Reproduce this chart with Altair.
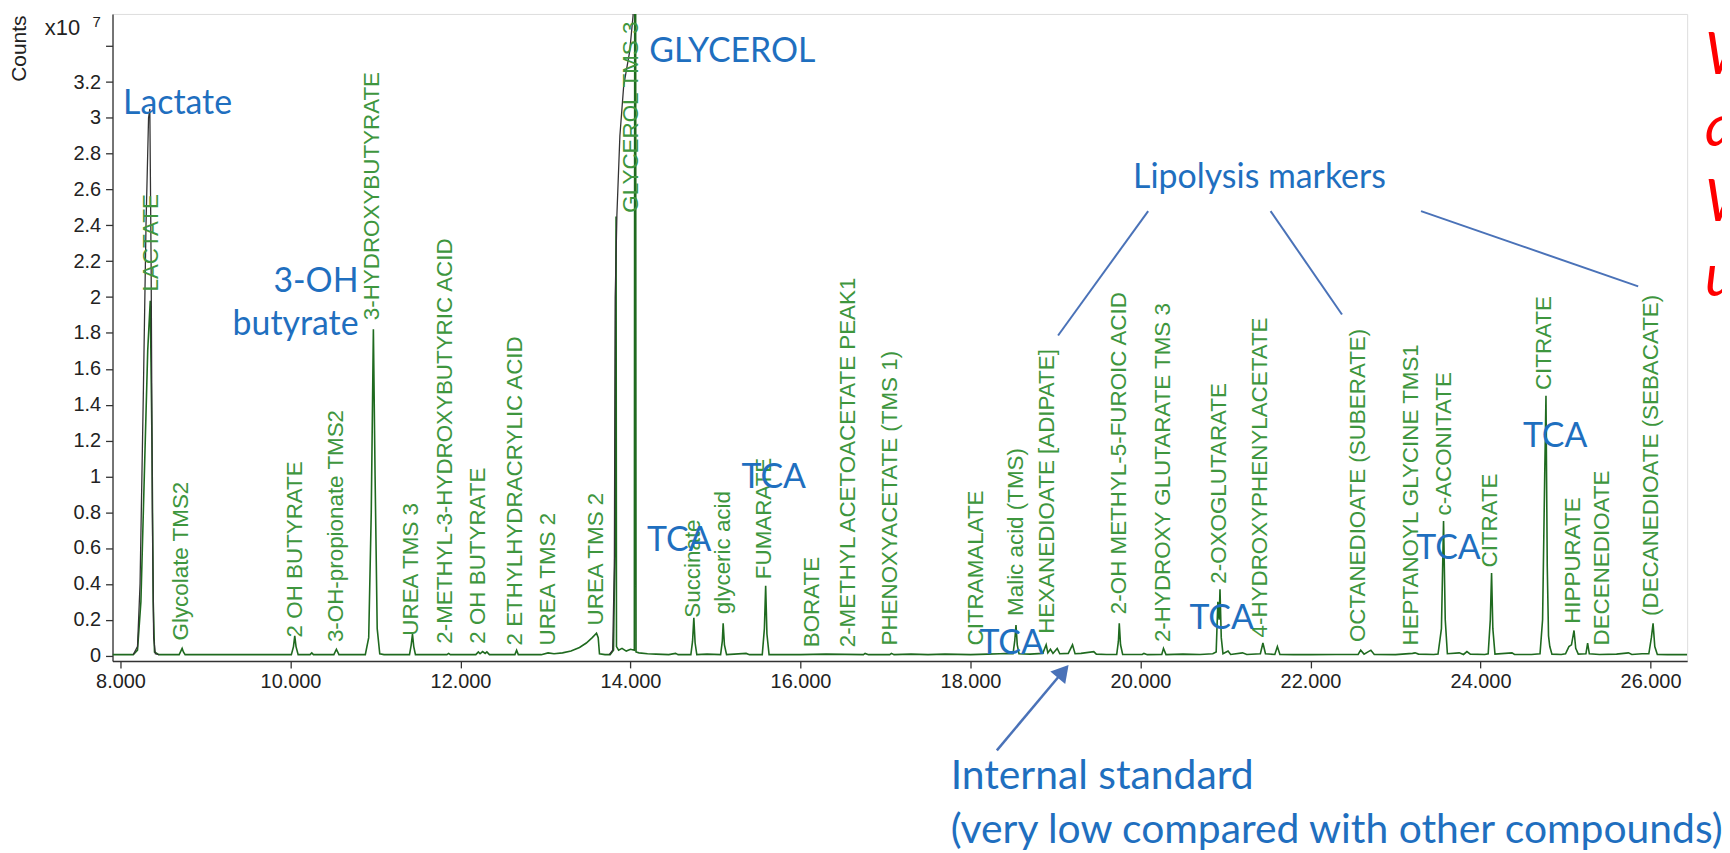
import altair as alt
import pandas as pd

# ---------------- data ----------------
# main (green) chromatogram trace: retention time (min) and counts (x10^7)
trace_t = [7.906, 8.15, 8.20, 8.24, 8.28, 8.32, 8.35, 8.37, 8.385, 8.40, 8.45,
           8.69, 8.71, 8.725, 8.74, 8.76, 9.5,
           10.01, 10.035, 10.05, 10.065, 10.09, 10.23, 10.25, 10.27, 10.51, 10.54, 10.57,
           10.88, 10.92, 10.95, 10.975, 10.995, 11.02, 11.05, 11.10,
           11.40, 11.42, 11.435, 11.45, 11.47, 11.84, 11.86, 11.88,
           12.18, 12.21, 12.23, 12.26, 12.29, 12.31, 12.34, 12.64, 12.66, 12.68,
           12.95, 13.03, 13.10, 13.20, 13.30, 13.40, 13.48, 13.55, 13.60, 13.62, 13.635, 13.70,
           13.76, 13.80, 13.815, 13.83, 13.835, 13.86, 13.90, 13.95, 14.00, 14.045, 14.05, 14.06, 14.065,
           14.10, 14.20, 14.30, 14.45, 14.53, 14.56,
           14.71, 14.73, 14.745, 14.76, 14.78, 14.90,
           15.06, 15.08, 15.09, 15.105, 15.13, 15.36, 15.40,
           15.55, 15.575, 15.59, 15.605, 15.63, 16.00, 16.30, 16.74, 16.76, 16.80,
           17.05, 17.07, 17.10, 17.30, 17.50, 17.70, 18.00, 18.20, 18.35, 18.45,
           18.50, 18.52, 18.535, 18.55, 18.57, 18.70, 18.85, 18.89, 18.91, 18.94, 18.97,
           19.02, 19.05, 19.15, 19.20, 19.23, 19.30, 19.45, 19.48, 19.60,
           19.72, 19.74, 19.75, 19.765, 19.79, 20.02, 20.04, 20.08, 20.25, 20.27, 20.30,
           20.50, 20.70, 20.85, 20.89, 20.91, 20.925, 20.935, 20.95, 20.97, 21.03, 21.06,
           21.20, 21.25, 21.41, 21.44, 21.47, 21.58, 21.61, 21.64, 21.80, 22.00, 22.30,
           22.56, 22.59, 22.63, 22.71, 22.75, 23.00, 23.20, 23.23, 23.27, 23.45,
           23.50, 23.54, 23.565, 23.585, 23.61, 23.75, 23.80, 23.84, 23.88, 24.05,
           24.09, 24.115, 24.13, 24.145, 24.17, 24.37, 24.40, 24.60,
           24.70, 24.73, 24.755, 24.77, 24.785, 24.80, 24.815, 24.84, 24.95,
           25.00, 25.04, 25.07, 25.10, 25.12, 25.15, 25.24, 25.26, 25.28, 25.40, 25.60,
           25.74, 25.78, 25.90, 25.98, 26.01, 26.03, 26.05, 26.08, 26.20, 26.431]
trace_y = [0.005, 0.005, 0.03, 0.30, 1.00, 1.70, 1.98, 1.20, 0.30, 0.02, 0.005,
           0.005, 0.025, 0.04, 0.02, 0.005, 0.005,
           0.005, 0.05, 0.11, 0.05, 0.005, 0.005, 0.015, 0.005, 0.005, 0.035, 0.005,
           0.005, 0.10, 0.80, 1.82, 1.00, 0.15, 0.01, 0.005,
           0.005, 0.06, 0.12, 0.05, 0.005, 0.005, 0.012, 0.005,
           0.005, 0.02, 0.01, 0.022, 0.012, 0.02, 0.005, 0.005, 0.03, 0.005,
           0.005, 0.015, 0.01, 0.015, 0.025, 0.045, 0.07, 0.10, 0.125, 0.10, 0.01, 0.005,
           0.005, 0.03, 0.55, 2.45, 0.05, 0.03, 0.04, 0.025, 0.035, 0.03, 3.9, 3.9, 0.02,
           0.015, 0.01, 0.008, 0.005, 0.012, 0.005,
           0.005, 0.08, 0.21, 0.07, 0.005, 0.008,
           0.005, 0.08, 0.18, 0.06, 0.005, 0.012, 0.005,
           0.005, 0.15, 0.39, 0.12, 0.005, 0.005, 0.008, 0.005, 0.012, 0.005,
           0.005, 0.012, 0.005, 0.008, 0.005, 0.008, 0.005, 0.008, 0.010, 0.012,
           0.01, 0.08, 0.17, 0.06, 0.01, 0.008, 0.012, 0.06, 0.015, 0.035, 0.012,
           0.04, 0.01, 0.012, 0.06, 0.01, 0.012, 0.022, 0.008, 0.006,
           0.006, 0.08, 0.18, 0.06, 0.006, 0.006, 0.012, 0.005, 0.006, 0.04, 0.005,
           0.008, 0.006, 0.01, 0.02, 0.30, 0.20, 0.37, 0.10, 0.01, 0.025, 0.006,
           0.015, 0.006, 0.01, 0.07, 0.01, 0.006, 0.05, 0.006, 0.005, 0.005, 0.006,
           0.006, 0.03, 0.008, 0.03, 0.006, 0.005, 0.012, 0.015, 0.008, 0.006,
           0.008, 0.15, 0.75, 0.20, 0.01, 0.015, 0.006, 0.022, 0.008, 0.006,
           0.01, 0.20, 0.46, 0.15, 0.008, 0.015, 0.006, 0.006,
           0.01, 0.20, 1.00, 1.45, 0.50, 0.11, 0.05, 0.008, 0.006,
           0.01, 0.05, 0.06, 0.14, 0.04, 0.008, 0.01, 0.07, 0.01, 0.006, 0.008,
           0.015, 0.006, 0.01, 0.01, 0.10, 0.18, 0.05, 0.006, 0.005, 0.005]

# black (total) trace where it departs from the green one
tic_seg = ["lactate"] * 12 + ["glycerol"] * 11
tic_t = [8.15, 8.20, 8.23, 8.27, 8.30, 8.33, 8.345, 8.36, 8.375, 8.39, 8.41, 8.45,
         13.75, 13.79, 13.81, 13.82, 13.84, 13.875, 13.92, 13.99, 14.03, 14.045, 14.05]
tic_y = [0.005, 0.05, 0.40, 1.50, 2.40, 3.00, 3.05, 2.20, 0.80, 0.10, 0.01, 0.005,
         0.005, 0.03, 0.50, 2.00, 2.46, 2.90, 3.18, 3.37, 3.57, 3.90, 3.90]

# peak labels (software annotations)
label_names = ["LACTATE", "Glycolate TMS2", "2 OH BUTYRATE", "3-OH-propionate TMS2",
               "3-HYDROXYBUTYRATE", "UREA TMS 3", "2-METHYL-3-HYDROXYBUTYRIC ACID",
               "2 OH BUTYRATE", "2 ETHYLHYDRACRYLIC ACID", "UREA TMS 2", "UREA TMS 2",
               "GLYCEROL TMS 3", "Succinate", "glyceric acid", "FUMARATE", "BORATE",
               "2-METHYL ACETOACETATE PEAK1", "PHENOXYACETATE (TMS 1)", "CITRAMALATE",
               "Malic acid (TMS)", "HEXANEDIOATE [ADIPATE]", "2-OH METHYL-5-FUROIC ACID",
               "2-HYDROXY GLUTARATE TMS 3", "2-OXOGLUTARATE", "4-HYDROXYPHENYLACETATE",
               "OCTANEDIOATE (SUBERATE)", "HEPTANOYL GLYCINE TMS1", "c-ACONITATE",
               "CITRATE", "CITRATE", "HIPPURATE", "DECENEDIOATE", "(DECANEDIOATE (SEBACATE)"]
label_t = [8.355, 8.71, 10.05, 10.53, 10.96, 11.415, 11.82, 12.21, 12.64, 13.03, 13.59,
           14.01, 14.74, 15.09, 15.565, 16.14, 16.56, 17.055, 18.065, 18.53, 18.895, 19.75,
           20.27, 20.92, 21.41, 22.56, 23.18, 23.565, 24.115, 24.75, 25.09, 25.43, 26.01]
label_v = [2.02, 0.073, 0.09, 0.064, 1.86, 0.10, 0.055, 0.055, 0.045, 0.045, 0.157,
           2.46, 0.20, 0.22, 0.415, 0.035, 0.035, 0.045, 0.045, 0.21, 0.11, 0.22,
           0.064, 0.39, 0.09, 0.064, 0.045, 0.77, 0.48, 1.47, 0.166, 0.045, 0.21]

# blue hand annotations
note_text = ["Lactate", "GLYCEROL", "Lipolysis markers", "TCA", "TCA", "TCA", "TCA", "TCA", "TCA"]
note_t = [8.03, 14.22, 19.913, 14.194, 15.307, 18.105, 20.576, 23.244, 24.499]
note_v = [3.021, 3.314, 2.61, 0.581, 0.936, 0.008, 0.147, 0.536, 1.164]
note_r_text = ["3-OH", "butyrate"]
note_r_t = [10.80, 10.80]
note_r_v = [2.027, 1.786]
std_text = ["Internal standard", "(very low compared with other compounds)"]
std_t = [17.766, 17.766]
std_v = [-0.747, -1.047]

# pointer lines from "Lipolysis markers"
lip_t = [20.09, 21.53, 23.30]
lip_v = [2.48, 2.48, 2.48]
lip_t2 = [19.03, 22.37, 25.855]
lip_v2 = [1.786, 1.903, 2.06]

# arrow to internal standard
arrow_t, arrow_v, arrow_t2, arrow_v2 = [18.31], [-0.529], [19.09], [-0.088]

# red text cut off at the right edge
red_text = ["W", "a", "W", "u"]
red_t = [26.64, 26.64, 26.64, 26.64]
red_v = [3.247, 2.842, 2.425, 2.008]

# axis ticks
x_ticks = [8, 10, 12, 14, 16, 18, 20, 22, 24, 26]
y_ticks = [0, 0.2, 0.4, 0.6, 0.8, 1, 1.2, 1.4, 1.6, 1.8, 2, 2.2, 2.4, 2.6, 2.8, 3, 3.2, 3.4]

# ---------------- chart ----------------
XS = alt.Scale(domain=[7.906, 26.431], nice=False, zero=False)
YS = alt.Scale(domain=[-0.03, 3.58], nice=False, zero=False)
LABEL_FONT = "Liberation Sans"
BLUE_FONT = "Lato"

x_axis = alt.Axis(values=x_ticks, format=".3f", title=None, grid=False, tickSize=7,
                  labelFontSize=20, labelFont=LABEL_FONT, labelColor="#222",
                  domainColor="#333", tickColor="#333", domainWidth=1.5, tickWidth=1.3,
                  labelPadding=4, labelFlush=False, labelOverlap=False)
y_axis = alt.Axis(values=y_ticks, title=None, grid=False, tickSize=7,
                  labelExpr="datum.value > 3.3 ? '' : format(datum.value, '~g')",
                  labelFontSize=20, labelFont=LABEL_FONT, labelColor="#222",
                  domainColor="#333", tickColor="#333", domainWidth=1.3, tickWidth=1.3,
                  labelPadding=5, labelOverlap=False)


def X(field="t"):
    return alt.X(f"{field}:Q", scale=XS, axis=x_axis)


def Y(field="v"):
    return alt.Y(f"{field}:Q", scale=YS, axis=y_axis)


trace_df = pd.DataFrame({"t": trace_t, "v": trace_y})
tic_df = pd.DataFrame({"t": tic_t, "v": tic_y, "seg": tic_seg})
lab_df = pd.DataFrame({"name": label_names, "t": label_t, "v": label_v})
note_df = pd.DataFrame({"text": note_text, "t": note_t, "v": note_v})
note_r_df = pd.DataFrame({"text": note_r_text, "t": note_r_t, "v": note_r_v})
std_df = pd.DataFrame({"text": std_text, "t": std_t, "v": std_v})
lip_df = pd.DataFrame({"t": lip_t, "v": lip_v, "t2": lip_t2, "v2": lip_v2})
arr_df = pd.DataFrame({"t": arrow_t, "v": arrow_v, "t2": arrow_t2, "v2": arrow_v2})
red_df = pd.DataFrame({"text": red_text, "t": red_t, "v": red_v})
hdr_df = pd.DataFrame({"text": ["Counts", "x10", "7"],
                       "t": [6.817, 7.110, 7.672], "v": [3.386, 3.464, 3.508]})

green_line = alt.Chart(trace_df).mark_line(color="#1f6a1f", strokeWidth=1.6, clip=True).encode(
    x=X(), y=Y(), order="t:Q"
)

black_line = alt.Chart(tic_df).mark_line(color="#333333", strokeWidth=1.3, clip=True).encode(
    x=X(), y=Y(), detail="seg:N", order="t:Q"
)

labels = alt.Chart(lab_df).mark_text(
    angle=270, align="left", baseline="middle", font=LABEL_FONT, fontSize=22.5,
    color="#3e963e", dx=2
).encode(x=X(), y=Y(), text="name:N")

notes = alt.Chart(note_df).mark_text(
    align="left", baseline="alphabetic", font=BLUE_FONT, fontSize=34, color="#1f6fbf"
).encode(x=X(), y=Y(), text="text:N")

notes_r = alt.Chart(note_r_df).mark_text(
    align="right", baseline="alphabetic", font=BLUE_FONT, fontSize=34, color="#1f6fbf"
).encode(x=X(), y=Y(), text="text:N")

std_notes = alt.Chart(std_df).mark_text(
    align="left", baseline="alphabetic", font=BLUE_FONT, fontSize=41, color="#1f6fbf"
).encode(x=X(), y=Y(), text="text:N")

lip_rules = alt.Chart(lip_df).mark_rule(color="#4a72b8", strokeWidth=2).encode(
    x=X(), y=Y(), x2="t2:Q", y2="v2:Q"
)

arrow_rule = alt.Chart(arr_df).mark_rule(color="#4a72b8", strokeWidth=2.5).encode(
    x=X(), y=Y(), x2="t2:Q", y2="v2:Q"
)
arrow_head = alt.Chart(arr_df).mark_point(
    shape="triangle-up", angle=40, size=380, filled=True, color="#4a72b8", opacity=1
).encode(x=X("t2"), y=Y("v2"))

red_notes = alt.Chart(red_df).mark_text(
    align="left", baseline="alphabetic", font=BLUE_FONT, fontSize=58, fontStyle="italic",
    color="#ff0000"
).encode(x=X(), y=Y(), text="text:N")

counts_title = alt.Chart(hdr_df[hdr_df.text == "Counts"]).mark_text(
    angle=270, align="center", baseline="middle", font=LABEL_FONT, fontSize=21, color="#222"
).encode(x=X(), y=Y(), text="text:N")
x10 = alt.Chart(hdr_df[hdr_df.text == "x10"]).mark_text(
    align="left", baseline="alphabetic", font=LABEL_FONT, fontSize=22, color="#222"
).encode(x=X(), y=Y(), text="text:N")
exp7 = alt.Chart(hdr_df[hdr_df.text == "7"]).mark_text(
    align="left", baseline="alphabetic", font=LABEL_FONT, fontSize=15, color="#222"
).encode(x=X(), y=Y(), text="text:N")

chart = alt.layer(
    green_line, black_line, labels, lip_rules, arrow_rule, arrow_head,
    notes, notes_r, std_notes, red_notes, counts_title, x10, exp7
).properties(
    width=1582, height=650,
    autosize=alt.AutoSizeParams(type="none"),
    padding={"left": 105, "top": 4, "right": 35, "bottom": 191},
).configure_view(strokeWidth=0, stroke="transparent").configure(background="white")

chart.save("out.html", embed_options={"renderer": "svg", "actions": False})
